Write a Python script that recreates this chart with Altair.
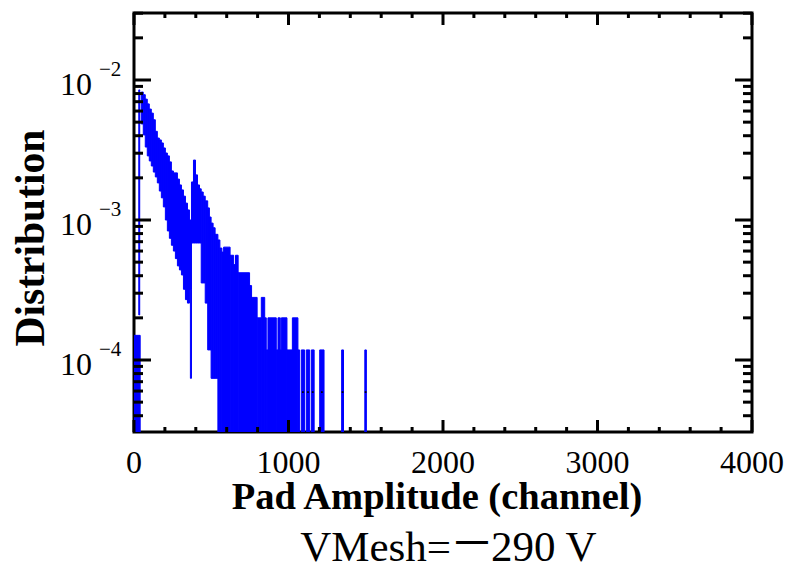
import altair as alt
import pandas as pd

# ---- histogram envelope (channel range, lower / upper edge of error bars) ----
seg_x0 = [0, 31, 47, 60, 73, 86, 99, 112, 125, 138, 151, 164, 177, 190, 203, 216, 229, 242, 255, 268,
          281, 294, 307, 320, 333, 346, 359, 365,
          372, 385, 398, 411, 424, 435, 448, 461, 477, 488, 499, 512, 525,
          543, 556, 569, 580, 622, 645, 657, 674, 748, 761, 797, 824, 846, 856, 867, 921, 932, 947, 954,
          990, 1025, 1061, 1083, 1115, 1148, 1202, 1344, 1494]
seg_x1 = [40, 37, 60, 73, 86, 99, 112, 125, 138, 151, 164, 177, 190, 203, 216, 229, 242, 255, 268, 281,
          294, 307, 320, 333, 346, 359, 372, 372,
          385, 398, 411, 424, 435, 448, 461, 477, 488, 499, 512, 525, 543,
          556, 569, 580, 622, 645, 657, 674, 748, 761, 797, 824, 846, 856, 867, 921, 932, 947, 954, 990,
          1025, 1061, 1072, 1104, 1137, 1166, 1230, 1356, 1504]
seg_lo = [0, 2.1e-4, 4.85e-3, 4.05e-3, 3.32e-3, 2.87e-3, 2.64e-3, 2.43e-3, 2.2e-3, 2.03e-3, 1.84e-3,
          1.61e-3, 1.44e-3, 1.24e-3, 1.0e-3, 8.35e-4, 7.4e-4, 6.6e-4, 6.0e-4, 5.3e-4, 4.7e-4, 4.4e-4,
          4.05e-4, 3.2e-4, 2.7e-4, 2.55e-4, 3.2e-4, 7.4e-5,
          6.85e-4, 6.85e-4, 6.85e-4, 6.85e-4, 6.85e-4, 3.55e-4, 3.55e-4, 2.55e-4, 1.18e-4, 1.18e-4,
          7.4e-5, 7.4e-5, 7.4e-5,
          0, 0, 0, 0, 0, 0, 0, 0, 0, 0, 0, 0, 0, 0, 0, 0, 0, 0, 0, 0, 0, 0, 0, 0, 0, 0, 0, 0]
seg_hi = [1.5e-4, 8.5e-3, 8.2e-3, 7.85e-3, 7.3e-3, 6.75e-3, 6.2e-3, 5.8e-3, 5.2e-3, 4.3e-3, 3.85e-3,
          3.73e-3, 3.55e-3, 3.27e-3, 3.01e-3, 2.87e-3, 2.6e-3, 2.24e-3, 2.17e-3, 2.17e-3, 1.96e-3,
          1.78e-3, 1.64e-3, 1.48e-3, 1.32e-3, 1.18e-3, 1.0e-3, 3.2e-4,
          1.87e-3, 2.68e-3, 2.10e-3, 1.78e-3, 1.67e-3, 1.585e-3, 1.48e-3, 1.37e-3, 1.22e-3, 1.05e-3,
          9.5e-4, 8.8e-4, 7.9e-4,
          7.2e-4, 6.3e-4, 5.9e-4, 6.4e-4, 5.6e-4, 4.8e-4, 5.6e-4, 4.2e-4, 3.4e-4, 2.8e-4, 2.0e-4,
          2.8e-4, 2.0e-4, 1.18e-4, 2.0e-4, 1.18e-4, 2.0e-4, 1.18e-4, 2.0e-4, 1.18e-4, 2.0e-4, 1.18e-4,
          1.18e-4, 1.18e-4, 1.18e-4, 1.18e-4, 1.18e-4, 1.18e-4]

# bin-content markers of isolated single-count bins in the tail
mark_x = [1093, 1126, 1157, 1216, 1350, 1499]
mark_y = [5.9e-5, 5.9e-5, 5.9e-5, 5.9e-5, 5.9e-5, 5.9e-5]

# ---- axes ----
x_major = [0, 1000, 2000, 3000, 4000]
x_major_labels = ["0", "1000", "2000", "3000", "4000"]
x_minor = [v for v in range(200, 4000, 200) if v % 1000 != 0]
y_major = [1e-4, 1e-3, 1e-2]
y_major_exp = ["\u22124", "\u22123", "\u22122"]
y_minor = [m * 1e-5 for m in range(4, 10)] + [m * 1e-4 for m in range(2, 10)] + \
          [m * 1e-3 for m in range(2, 10)] + [2e-2, 3e-2]

x_title = "Pad Amplitude (channel)"
y_title = "Distribution"
note_parts = ["VMesh=", "\uff0d", "290 V"]

W, H = 618, 419
BLUE = "#0000ff"
SERIF = "Liberation Serif"

xs = alt.Scale(domain=[0, 4000], nice=False, zero=False)
ys = alt.Scale(type="log", domain=[3.06e-5, 3.01e-2], nice=False)

seg = pd.DataFrame({"x0": seg_x0, "x1": seg_x1, "lo": seg_lo, "hi": seg_hi})
hist = alt.Chart(seg).transform_calculate(
    lo_plot="datum.lo > 0 ? datum.lo : 1e-7"
).mark_rect(color=BLUE, stroke=BLUE, strokeWidth=1, clip=True).encode(
    x=alt.X("x0:Q", scale=xs, axis=None),
    x2="x1:Q",
    y=alt.Y("hi:Q", scale=ys, axis=None),
    y2="lo_plot:Q",
)

markers = alt.Chart(pd.DataFrame({"x": mark_x, "y": mark_y})).mark_square(
    color="black", size=3, opacity=1
).encode(x=alt.X("x:Q", scale=xs, axis=None), y=alt.Y("y:Q", scale=ys, axis=None))

xmaj = pd.DataFrame({"x": x_major, "lab": x_major_labels})
xmin = pd.DataFrame({"x": x_minor})
ymaj = pd.DataFrame({"y": y_major, "exp": y_major_exp, "base": ["10"] * 3})
ymin = pd.DataFrame({"y": y_minor})


def xticks(df, length):
    bot = alt.Chart(df).mark_rule(color="black", strokeWidth=3).encode(
        x=alt.X("x:Q", scale=xs, axis=None), y=alt.value(H), y2=alt.value(H - length))
    top = alt.Chart(df).mark_rule(color="black", strokeWidth=3).encode(
        x=alt.X("x:Q", scale=xs, axis=None), y=alt.value(0), y2=alt.value(length))
    return [bot, top]


def yticks(df, length):
    left = alt.Chart(df).mark_rule(color="black", strokeWidth=3).encode(
        y=alt.Y("y:Q", scale=ys, axis=None), x=alt.value(0), x2=alt.value(length))
    right = alt.Chart(df).mark_rule(color="black", strokeWidth=3).encode(
        y=alt.Y("y:Q", scale=ys, axis=None), x=alt.value(W), x2=alt.value(W - length))
    return [left, right]


xlabels = alt.Chart(xmaj).mark_text(font=SERIF, fontSize=32, align="center",
                                    baseline="alphabetic", color="black").encode(
    x=alt.X("x:Q", scale=xs, axis=None), y=alt.value(460), text="lab:N")

ybase = alt.Chart(ymaj).mark_text(font=SERIF, fontSize=32, align="right",
                                  baseline="alphabetic", dy=15, color="black").encode(
    y=alt.Y("y:Q", scale=ys, axis=None), x=alt.value(-42), text="base:N")
yexp = alt.Chart(ymaj).mark_text(font=SERIF, fontSize=21, align="left",
                                 baseline="alphabetic", dy=-4, color="black").encode(
    y=alt.Y("y:Q", scale=ys, axis=None), x=alt.value(-35), text="exp:N")

xtitle = alt.Chart(pd.DataFrame({"t": [x_title]})).mark_text(
    font=SERIF, fontSize=38.5, fontWeight="bold", align="center", baseline="alphabetic", color="black"
).encode(x=alt.value(303), y=alt.value(496), text="t:N")

ytitle = alt.Chart(pd.DataFrame({"t": [y_title]})).mark_text(
    font=SERIF, fontSize=41.5, fontWeight="bold", align="center", baseline="alphabetic", angle=270,
    color="black"
).encode(x=alt.value(-90), y=alt.value(225), text="t:N")

note1 = alt.Chart(pd.DataFrame({"t": [note_parts[0]]})).mark_text(
    font=SERIF, fontSize=43, align="right", baseline="alphabetic", color="black"
).encode(x=alt.value(317), y=alt.value(548), text="t:N")
note2 = alt.Chart(pd.DataFrame({"t": [note_parts[1]]})).mark_text(
    font="Noto Sans CJK SC", fontSize=44, align="center", baseline="alphabetic", color="black"
).encode(x=alt.value(338), y=alt.value(546), text="t:N")
note3 = alt.Chart(pd.DataFrame({"t": [note_parts[2]]})).mark_text(
    font=SERIF, fontSize=43, align="left", baseline="alphabetic", color="black"
).encode(x=alt.value(357), y=alt.value(548), text="t:N")

layers = [hist, markers] + xticks(xmaj, 12) + xticks(xmin, 5) + yticks(ymaj, 17) + yticks(ymin, 9) + \
         [xlabels, ybase, yexp, xtitle, ytitle, note1, note2, note3]

chart = alt.layer(*layers).properties(
    width=W, height=H,
    autosize=alt.AutoSizeParams(type="none"),
    padding={"left": 134, "top": 13, "right": 37, "bottom": 132},
    background="white",
).configure_view(stroke="black", strokeWidth=3)

chart.save("out.html", embed_options={"renderer": "svg", "actions": False})
